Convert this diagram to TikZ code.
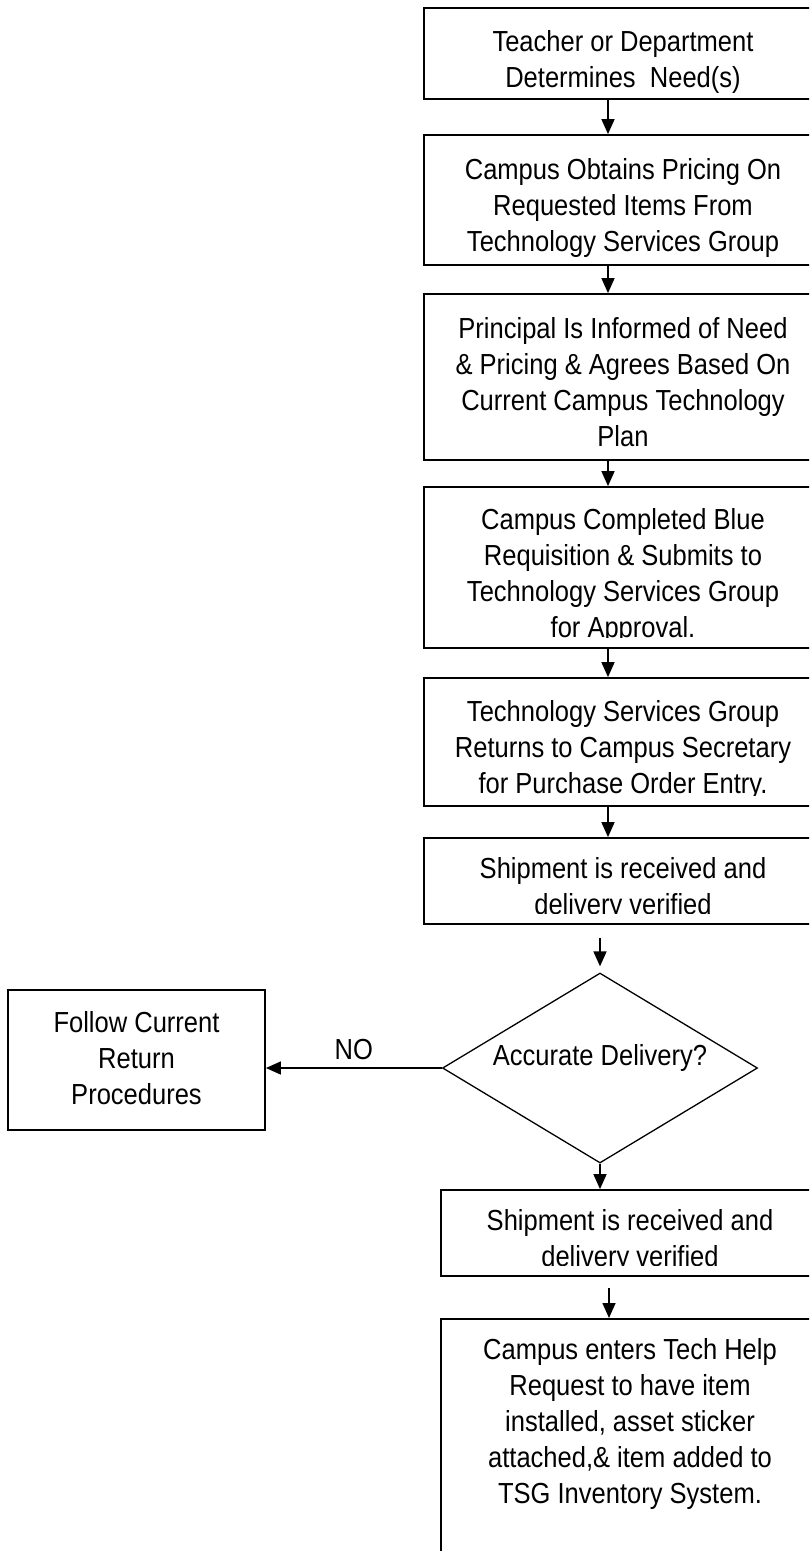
\documentclass[tikz,border=0pt]{standalone}
\usepackage{fontspec}
\setmainfont{Liberation Sans}[FakeStretch=0.88]
\usepackage{tikz}
\usetikzlibrary{positioning, arrows.meta, shapes.geometric}
\tikzset{
  stepbox/.style={draw, line width=1.8pt, align=center, minimum width=398pt, inner xsep=0pt, inner ysep=10pt},
  steptext/.style={align=center, inner sep=0pt, text depth=0pt},
  flow/.style={-{Triangle[length=15pt, width=13pt]}, line width=1.6pt}
}
\newcommand{\cliptext}[4][11pt]{
\begin{scope}
\clip ([yshift=#1]#2.south west) rectangle (#2.north east);
\node[steptext] (#3) at ([yshift=-5pt]#2.center) {#4};
\end{scope}
}

\begin{document}
\begin{tikzpicture}[x=1pt, y=-1pt, font=\fontsize{29}{36}\selectfont]
    \useasboundingbox (0,0) rectangle (809,1551);
    \clip (0,0) rectangle (809,1551);
    % main column
    \node[stepbox, minimum height=91pt] (need) at (623,53.5) {};
    \cliptext[0pt]{need}{needtext}{Teacher or Department\\Determines\ \ Need(s)}
    \node[stepbox, minimum height=130pt] (pricing) at (623,200) {};
    \cliptext[0pt]{pricing}{pricingtext}{Campus Obtains Pricing On\\Requested Items From\\Technology Services Group}
    \node[stepbox, minimum height=166pt] (agree) at (623,377) {};
    \cliptext[0pt]{agree}{agreetext}{Principal Is Informed of Need\\\& Pricing \& Agrees Based On\\Current Campus Technology\\Plan}
    \node[stepbox, minimum height=161pt] (requisition) at (623,567.5) {};
    \cliptext{requisition}{requisitiontext}{Campus Completed Blue\\Requisition \& Submits to\\Technology Services Group\\for Approval.}
    \node[stepbox, minimum height=128pt] (entry) at (623,742) {};
    \cliptext{entry}{entrytext}{Technology Services Group\\Returns to Campus Secretary\\for Purchase Order Entry.}
    \node[stepbox, minimum height=86pt] (received) at (623,881) {};
    \cliptext{received}{receivedtext}{Shipment is received and\\delivery verified}
    \node[draw, diamond, line width=1.3pt, minimum width=315pt, minimum height=190pt, inner sep=0pt, aspect=1.66, text depth=26pt] (check) at (600,1068) {Accurate Delivery?};
    \node[stepbox, minimum width=257pt, minimum height=140pt, text depth=4pt] (follow) at (136.5,1060) {Follow Current\\Return\\Procedures};
    \node[stepbox, minimum width=378pt, minimum height=86pt] (verified) at (630,1233) {};
    \cliptext{verified}{verifiedtext}{Shipment is received and\\delivery verified}
    \node[stepbox, minimum width=378pt, anchor=north, inner ysep=20pt, text depth=120pt] (install) at (630,1318) {Campus enters Tech Help\\Request to have item\\installed, asset sticker\\attached,\& item added to\\TSG Inventory System.};
    % connectors
    \foreach \a/\b in {need/pricing, pricing/agree, agree/requisition, requisition/entry, entry/received}
    {
        \draw[flow] ([xshift=-15pt]\a.south) -- ([xshift=-15pt]\b.north);
    }
    \draw[flow] ([yshift=-13pt]received.south -| check.north) -- ([yshift=6pt]check.north);
    \draw[flow] (check.west) -- node[midway, above=4pt] (nolabel) {NO} (check.west -| follow.east);
    \draw[flow] (check.south) -- (check.south |- verified.north);
    \draw[flow] ([yshift=-11pt,xshift=-21pt]verified.south) -- ([xshift=-21pt]install.north);
\end{tikzpicture}
\end{document}
